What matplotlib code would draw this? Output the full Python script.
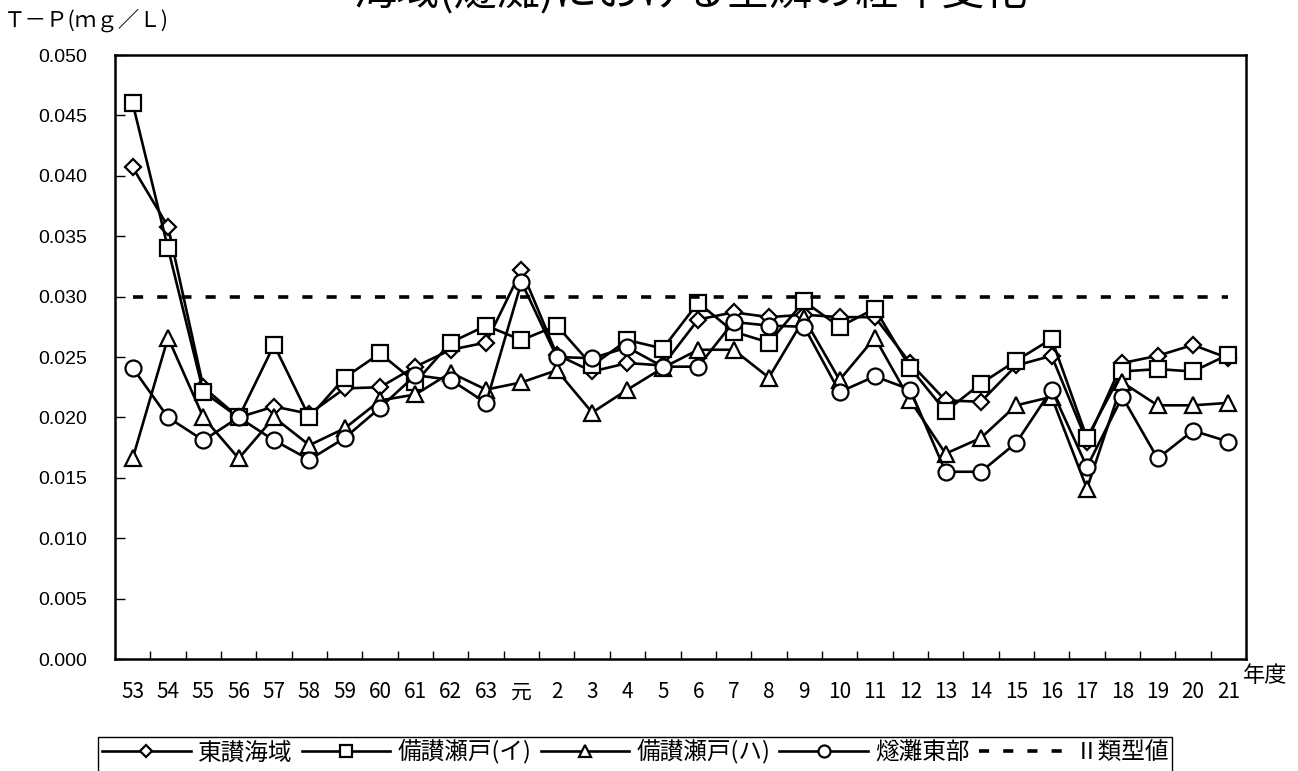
import matplotlib
matplotlib.use('Agg')
import matplotlib.pyplot as plt
from matplotlib.patches import Rectangle
from matplotlib.ticker import FormatStrFormatter
import numpy as np

plt.rcParams['font.family'] = ['Noto Sans CJK JP', 'DejaVu Sans']

# ---- data ----
title = '海域(燧灘)における全燐の経年変化'
y_label = 'Ｔ－Ｐ(ｍｇ／Ｌ)'
x_label = '年度'
years = ['53', '54', '55', '56', '57', '58', '59', '60', '61', '62', '63', '元',
         '2', '3', '4', '5', '6', '7', '8', '9', '10', '11', '12', '13', '14',
         '15', '16', '17', '18', '19', '20', '21']

tousan = [0.0407, 0.0358, 0.0225, 0.0200, 0.0209, 0.0203, 0.0224, 0.0225,
          0.0242, 0.0256, 0.0262, 0.0322, 0.0252, 0.0238, 0.0245, 0.0243,
          0.0281, 0.0287, 0.0283, 0.0285, 0.0283, 0.0283, 0.0245, 0.0214,
          0.0213, 0.0243, 0.0251, 0.0180, 0.0245, 0.0251, 0.0260, 0.0249]
bisan_i = [0.0460, 0.0340, 0.0221, 0.0200, 0.0260, 0.0200, 0.0233, 0.0253,
           0.0229, 0.0262, 0.0276, 0.0264, 0.0276, 0.0243, 0.0264, 0.0257,
           0.0295, 0.0271, 0.0262, 0.0296, 0.0275, 0.0290, 0.0241, 0.0205,
           0.0228, 0.0247, 0.0265, 0.0183, 0.0238, 0.0240, 0.0238, 0.0252]
bisan_ha = [0.0166, 0.0266, 0.0200, 0.0166, 0.0200, 0.0177, 0.0191, 0.0214,
            0.0219, 0.0237, 0.0223, 0.0229, 0.0239, 0.0204, 0.0223, 0.0241,
            0.0256, 0.0256, 0.0233, 0.0282, 0.0231, 0.0266, 0.0214, 0.0170,
            0.0183, 0.0210, 0.0217, 0.0141, 0.0229, 0.0210, 0.0210, 0.0212]
hiuchi = [0.0241, 0.0200, 0.0181, 0.0200, 0.0181, 0.0165, 0.0183, 0.0208,
          0.0235, 0.0231, 0.0212, 0.0312, 0.0250, 0.0249, 0.0258, 0.0242,
          0.0242, 0.0279, 0.0276, 0.0275, 0.0221, 0.0234, 0.0223, 0.0155,
          0.0155, 0.0179, 0.0223, 0.0159, 0.0217, 0.0166, 0.0189, 0.0180]
series_names = ['東讃海域', '備讃瀬戸(イ)', '備讃瀬戸(ハ)', '燧灘東部']
standard_value = 0.030
standard_label = 'Ⅱ類型値'
y_ticks = [0.000, 0.005, 0.010, 0.015, 0.020, 0.025, 0.030, 0.035, 0.040, 0.045, 0.050]

# ---- figure ----
W, H = 1298, 771
fig = plt.figure(figsize=(W / 100, H / 100), dpi=100)
fig.patch.set_facecolor('white')
L, R, T, B = 115, 1246, 55, 659
ax = fig.add_axes([L / W, (H - B) / H, (R - L) / W, (B - T) / H])

x = np.arange(len(years))
marker_styles = [('D', 8.2), ('s', 12), ('^', 11.5), ('o', 11.5)]
handles = []
for vals, name, (mk, ms) in zip([tousan, bisan_i, bisan_ha, hiuchi], series_names, marker_styles):
    ln, = ax.plot(x, vals, color='black', lw=1.9, marker=mk, ms=ms,
                  mfc='white', mec='black', mew=1.6, label=name)
    handles.append(ln)
ref, = ax.plot(x, [standard_value] * len(x), color='black', lw=2.6,
               ls=(0, (2.8, 3.9)), dash_capstyle='butt', label=standard_label)
handles.append(ref)

ax.set_xlim(-0.5, len(years) - 0.5)
ax.set_ylim(0, 0.05)
ax.set_xticks(x)
ax.set_xticklabels(years)
ax.set_xticks(np.arange(0.5, len(years) - 1, 1), minor=True)
ax.tick_params(axis='x', which='major', length=0, pad=16, labelsize=15)
ax.tick_params(axis='x', which='minor', direction='in', length=6, width=1)
ax.set_yticks(y_ticks)
ax.yaxis.set_major_formatter(FormatStrFormatter('%.3f'))
ax.tick_params(axis='y', direction='in', length=7, width=1, pad=20, labelsize=14)
for lab in ax.get_yticklabels():
    lab.set_fontfamily(['Liberation Sans', 'DejaVu Sans'])
for sp in ax.spines.values():
    sp.set_linewidth(1.8)
    sp.set_color('black')

fig.text(1243 / W, 1 - 676 / H, x_label, ha='left', va='center', fontsize=16)
fig.text(4 / W, 1 - 20 / H, y_label, ha='left', va='center', fontsize=15.5)
fig.text(690 / W, 1 - 15 / H, title, ha='center', va='bottom', fontsize=31)

fig.legend(handles=handles, loc='center left', bbox_to_anchor=(102 / W, 1 - 752 / H),
           ncol=5, frameon=False, fontsize=17, handlelength=3.75, handletextpad=0.3,
           columnspacing=0.4, markerscale=0.75, borderpad=0, borderaxespad=0)
fig.add_artist(Rectangle((98 / W, -0.05), (1172 - 98) / W, (1 - 737 / H) + 0.05,
                         transform=fig.transFigure, fill=False, lw=1, ec='black'))

fig.savefig('out.png', dpi=100)
